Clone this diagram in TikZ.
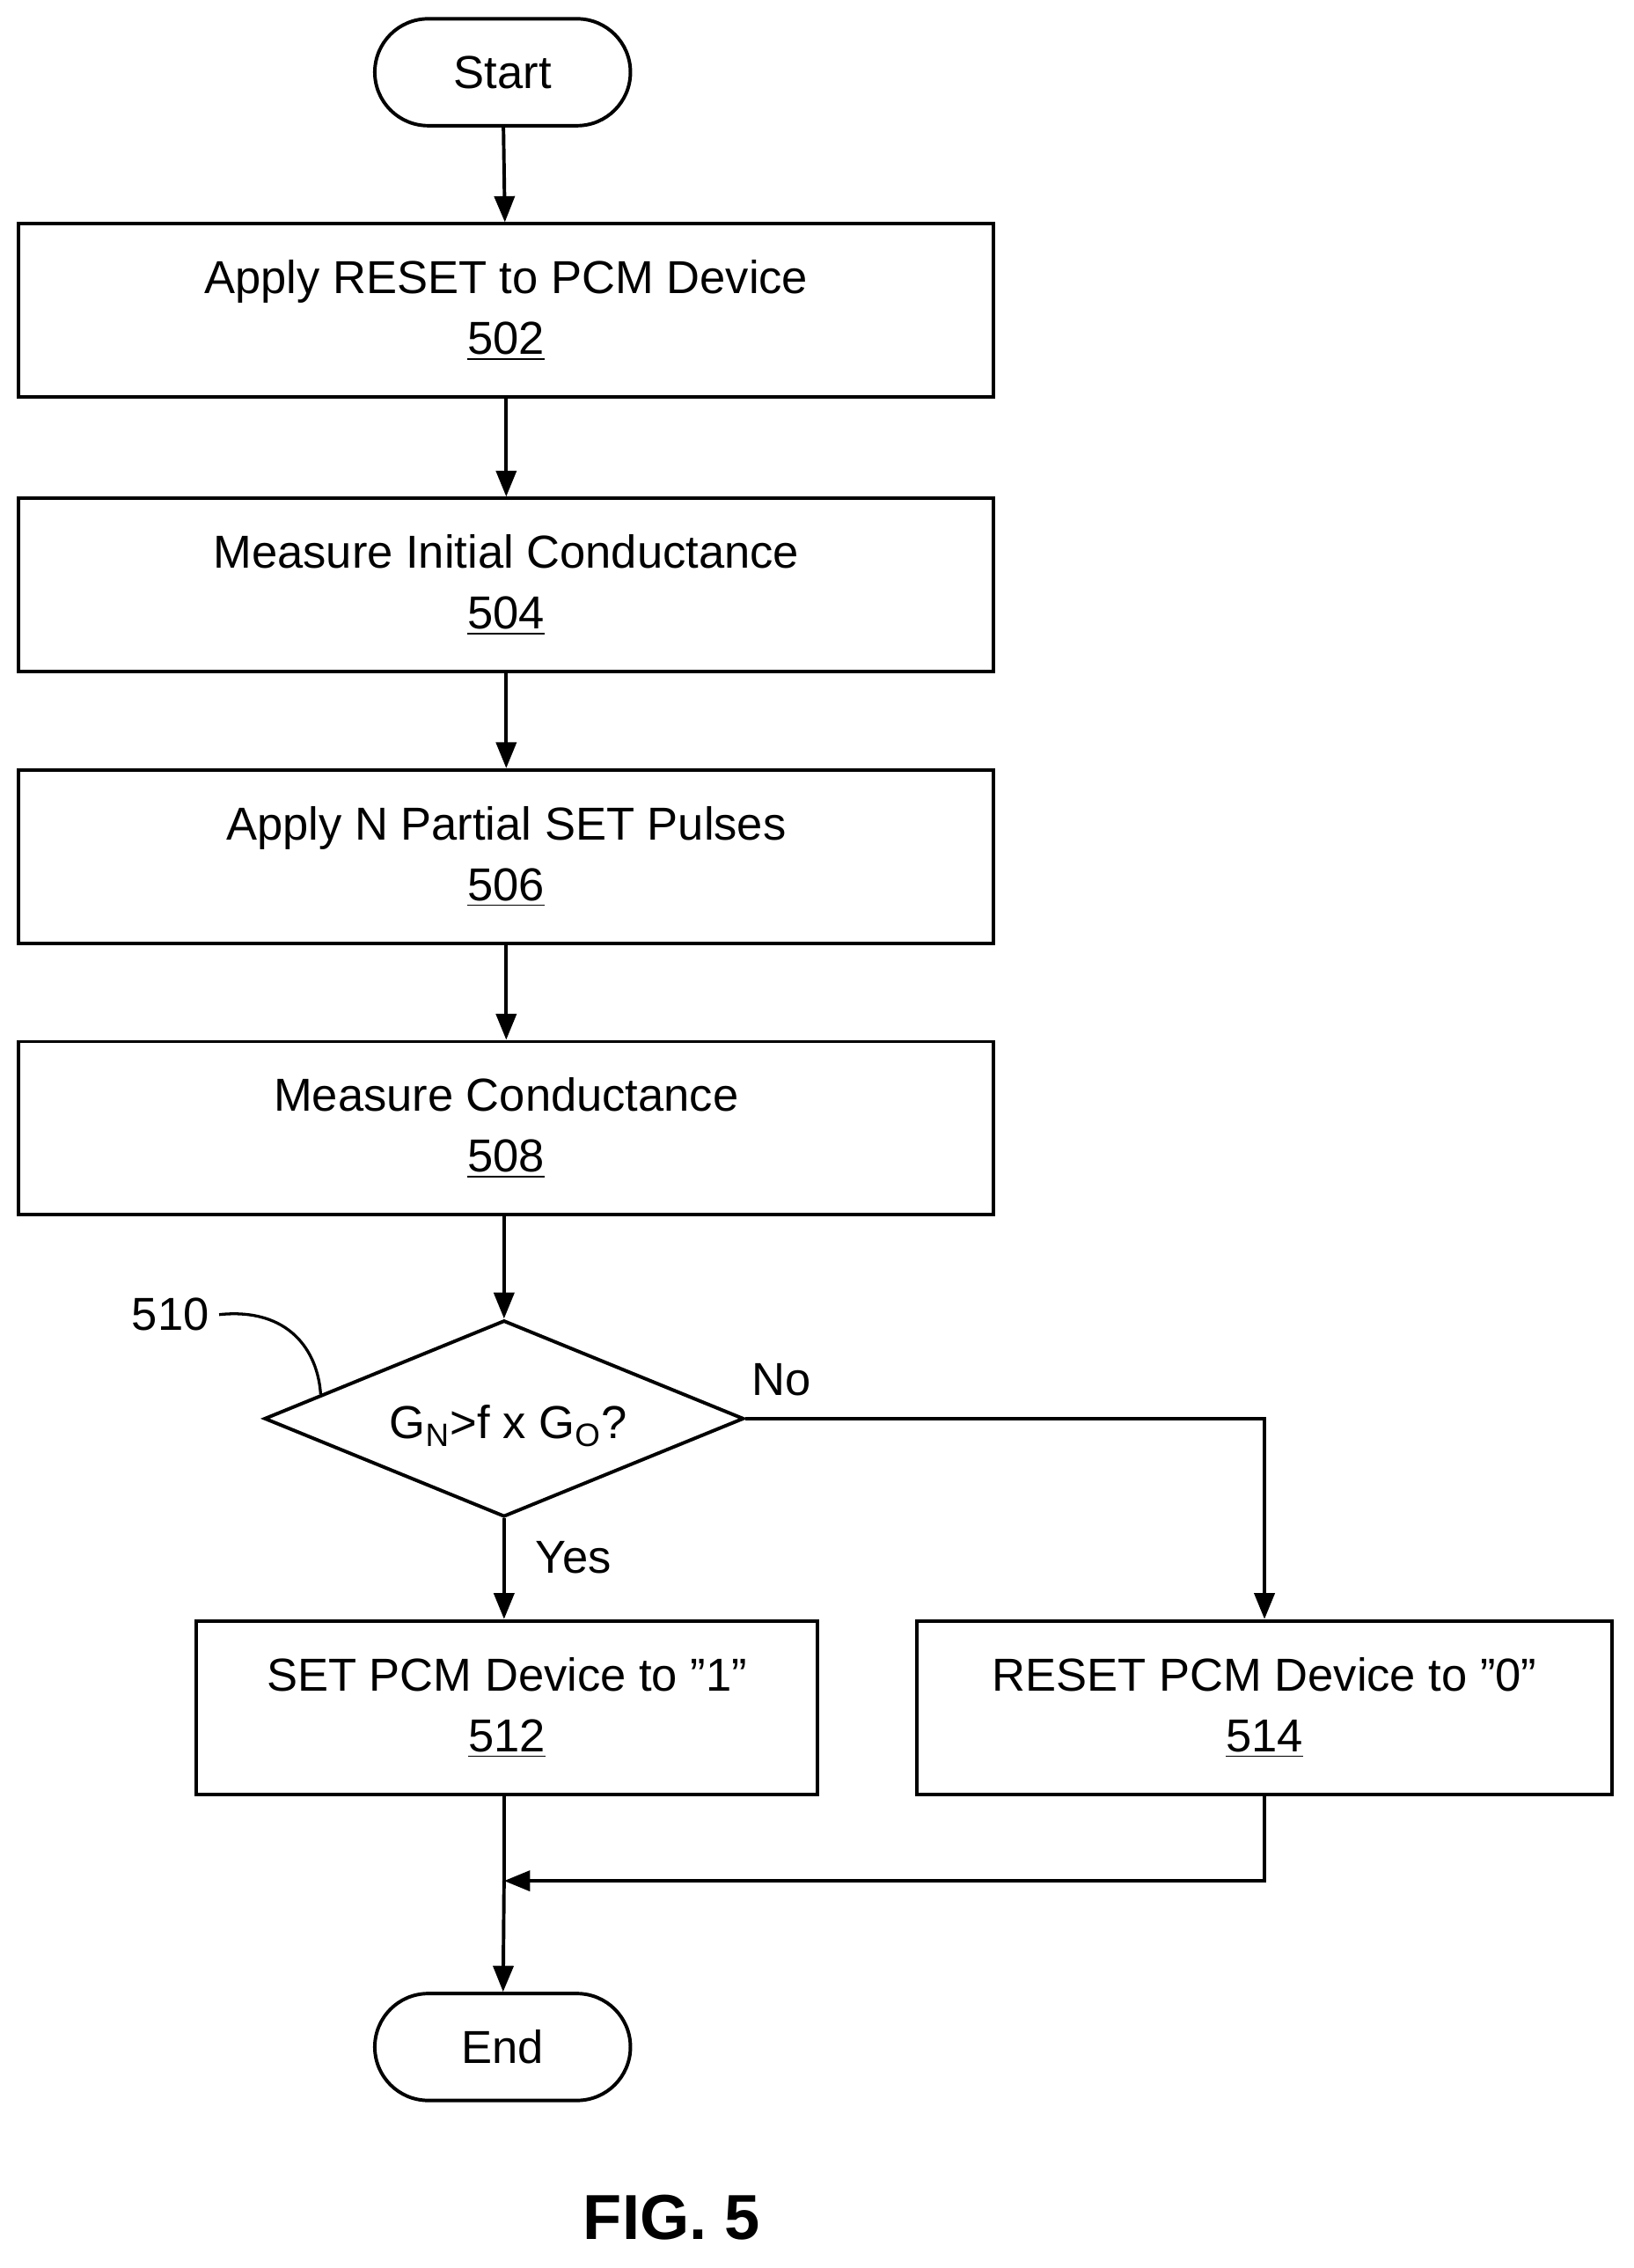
\documentclass[tikz,border=0pt]{standalone}
\usepackage{fontspec}
\setmainfont{Liberation Sans}
\usetikzlibrary{shapes.geometric,arrows.meta}
\begin{document}
\begin{tikzpicture}[x=0.5pt,y=-0.5pt,
  box/.style={draw,line width=1.2pt,minimum width=337.5pt,minimum height=60pt,align=center,font=\fontsize{16}{21}\selectfont,inner sep=0},
  term/.style={draw,line width=1.2pt,rounded corners=18.5pt,minimum width=88.5pt,minimum height=37pt,font=\fontsize{16}{20}\selectfont,inner sep=0},
  arr/.style={line width=1.2pt,-{Triangle[length=9pt,width=7pt]}},
  lbl/.style={font=\fontsize{16}{20}\selectfont}]
\useasboundingbox (0,0) rectangle (1131,1570);
\node[term] (start) at (348,50) {Start};
\node[box] (b502) at (350.5,215) {Apply RESET to PCM Device\\\underline{502}};
\node[box] (b504) at (350.5,405) {Measure Initial Conductance\\\underline{504}};
\node[box] (b506) at (350.5,593) {Apply N Partial SET Pulses\\\underline{506}};
\node[box] (b508) at (350.5,781) {Measure Conductance\\\underline{508}};
\node[draw,line width=1.2pt,diamond,shape aspect=2.44,minimum width=166pt,minimum height=68pt,inner sep=0] (d510) at (349,982) {};
\node[lbl] at (352,987) {G\textsubscript{N}>f x G\textsubscript{O}?};
\node[box,minimum width=215pt] (b512) at (351,1182) {SET PCM Device to "1"\\\underline{512}};
\node[box,minimum width=240.5pt] (b514) at (875.5,1182) {RESET PCM Device to "0"\\\underline{514}};
\node[term] (end) at (348,1417) {End};
\coordinate (m) at (349,1302);
\node[lbl] (l510) at (118,910) {510};
\node[lbl] (no) at (541,955) {No};
\node[lbl] (yes) at (397,1078) {Yes};
\node[font=\bfseries\fontsize{22}{26}\selectfont] (fig) at (465,1535) {FIG. 5};
\draw[arr] (start) -- (b502);
\draw[arr] (b502) -- (b504);
\draw[arr] (b504) -- (b506);
\draw[arr] (b506) -- (b508);
\draw[arr] (b508.south -| d510) -- (d510.north);
\draw[arr] (d510.south) -- (b512.north -| d510);
\draw[arr] (d510.east) -| (b514.north);
\draw[line width=1.2pt] (b512.south -| m) -- (m);
\draw[arr] (b514.south) |- (m);
\draw[arr] (m) -- (end);
\draw[line width=1pt] (l510.east) .. controls (200,905) and (220,935) .. (222,965);
\end{tikzpicture}
\end{document}
